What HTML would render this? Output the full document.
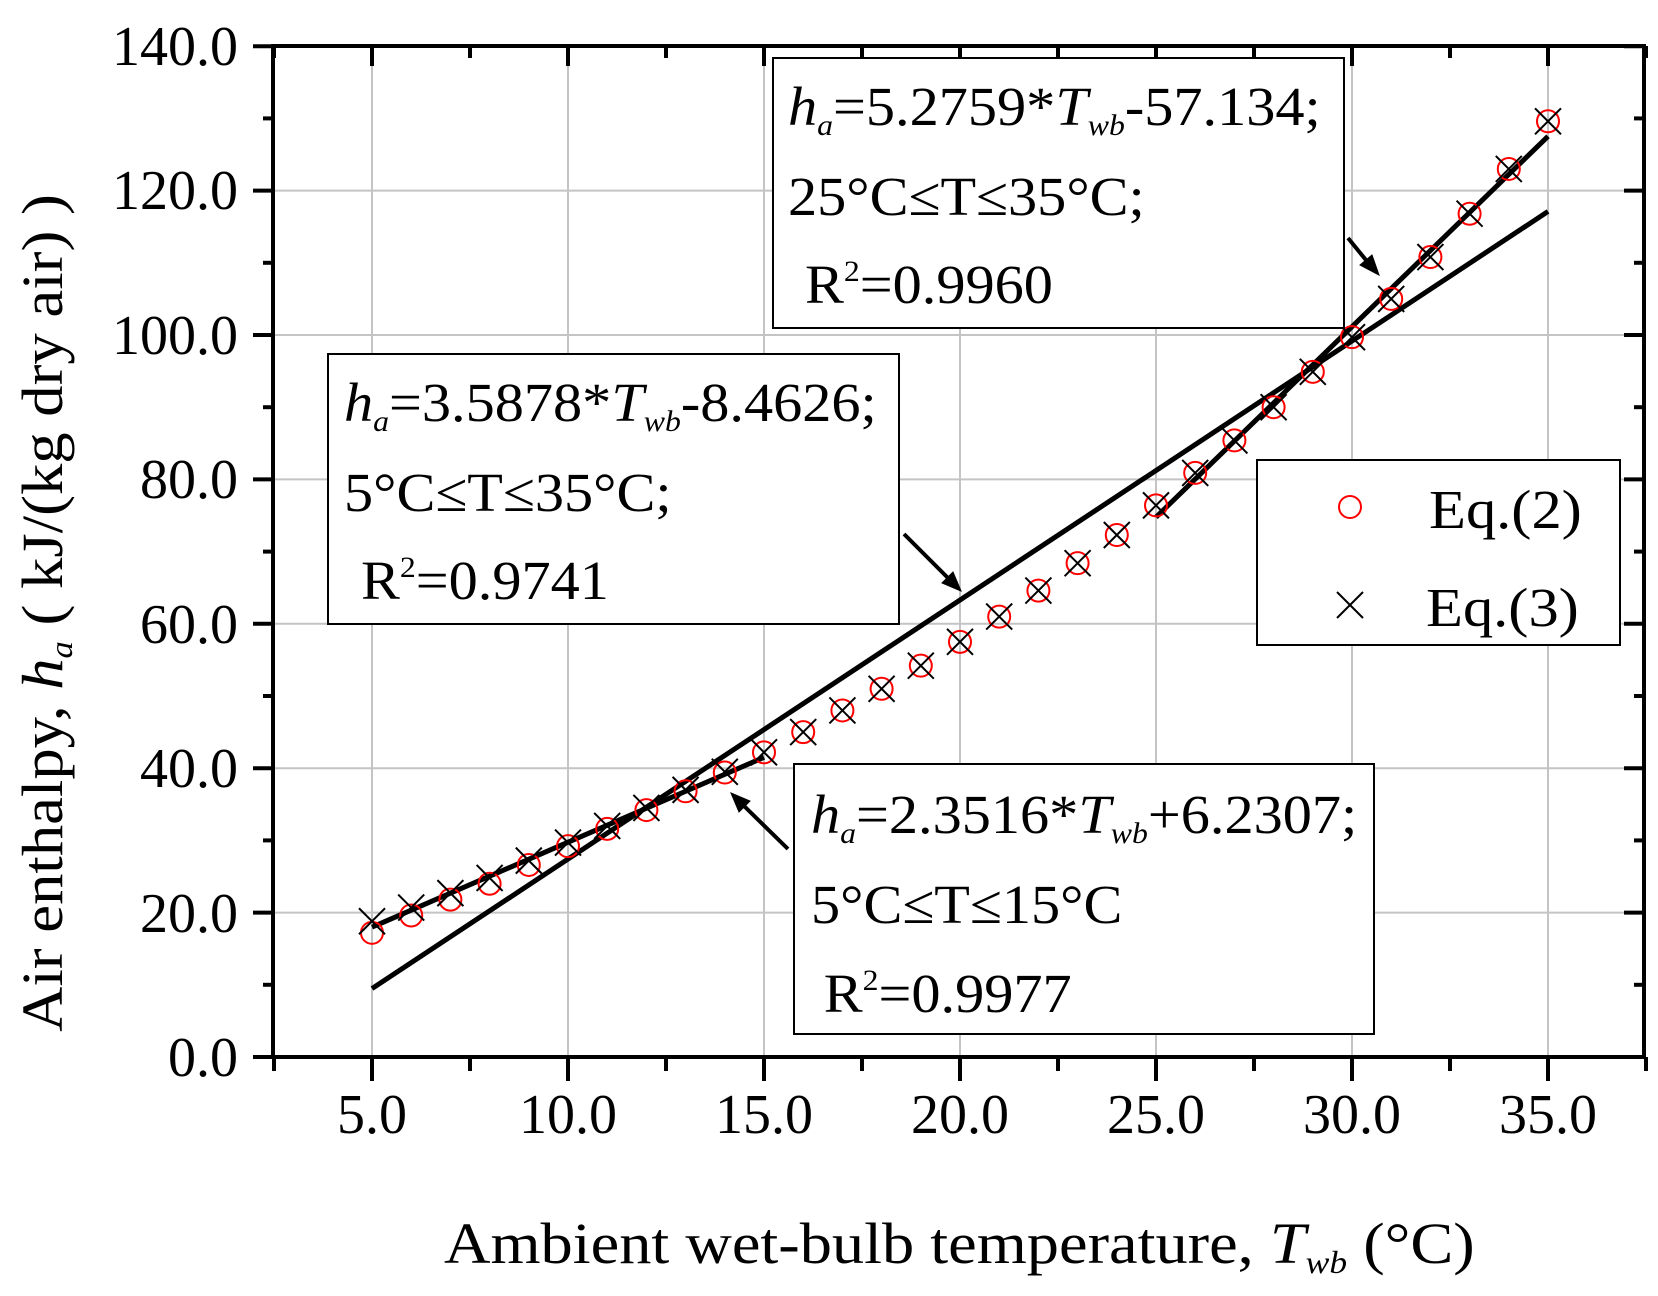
<!DOCTYPE html>
<html><head><meta charset="utf-8"><style>
html,body{margin:0;padding:0;background:#fff;}
svg{display:block;}
text{font-family:"Liberation Serif",serif;fill:#000;}
</style></head><body>
<svg id="s" width="1658" height="1296" viewBox="0 0 1658 1296" xmlns="http://www.w3.org/2000/svg">
<g id="grid" stroke="#c4c4c4" stroke-width="2"></g>
<g id="ticks" stroke="#000" stroke-width="4"></g>
<rect x="273" y="46" width="1371" height="1011" fill="none" stroke="#000" stroke-width="4"/>
<g font-size="56">
<text x="238" y="65" text-anchor="end">140.0</text>
<text x="238" y="209" text-anchor="end">120.0</text>
<text x="238" y="354" text-anchor="end">100.0</text>
<text x="238" y="498" text-anchor="end">80.0</text>
<text x="238" y="643" text-anchor="end">60.0</text>
<text x="238" y="787" text-anchor="end">40.0</text>
<text x="238" y="932" text-anchor="end">20.0</text>
<text x="238" y="1076" text-anchor="end">0.0</text>
<text x="372" y="1133" text-anchor="middle">5.0</text>
<text x="568" y="1133" text-anchor="middle">10.0</text>
<text x="764" y="1133" text-anchor="middle">15.0</text>
<text x="960" y="1133" text-anchor="middle">20.0</text>
<text x="1156" y="1133" text-anchor="middle">25.0</text>
<text x="1352" y="1133" text-anchor="middle">30.0</text>
<text x="1548" y="1133" text-anchor="middle">35.0</text>
</g>
<text transform="translate(444,1263) scale(1.11,1)" x="0" y="0" font-size="58">Ambient wet-bulb temperature, <tspan font-style="italic">T</tspan><tspan font-style="italic" font-size="32" dy="10">wb</tspan><tspan dy="-10"> (°C)</tspan></text>
<text transform="translate(62,613) rotate(-90) scale(1.08,1)" text-anchor="middle" font-size="58">Air enthalpy, <tspan font-style="italic">h</tspan><tspan font-style="italic" font-size="32" dy="10">a</tspan><tspan dy="-10"> ( kJ/(kg dry air) )</tspan></text>
<g id="lines" stroke="#000" stroke-width="5" fill="none"></g>
<g id="marks"></g>
<!-- boxes -->
<rect x="773" y="58" width="571" height="270" fill="#fff" stroke="#000" stroke-width="2"/>
<rect x="328" y="354" width="571" height="270" fill="#fff" stroke="#000" stroke-width="2"/>
<rect x="794" y="764" width="580" height="270" fill="#fff" stroke="#000" stroke-width="2"/>
<rect x="1257" y="460" width="363" height="185" fill="#fff" stroke="#000" stroke-width="2"/>
<g font-size="55">
<g transform="translate(788,0) scale(1.06,1)">
<text x="0" y="125"><tspan font-style="italic">h</tspan><tspan font-style="italic" font-size="30" dy="10">a</tspan><tspan dy="-10">=5.2759*</tspan><tspan font-style="italic">T</tspan><tspan font-style="italic" font-size="30" dy="10">wb</tspan><tspan dy="-10">-57.134;</tspan></text>
<text x="0" y="215">25°C≤T≤35°C;</text>
<text x="16" y="303">R<tspan font-size="30" dy="-22">2</tspan><tspan dy="22">=0.9960</tspan></text>
</g>
<g transform="translate(344,0) scale(1.06,1)">
<text x="0" y="421"><tspan font-style="italic">h</tspan><tspan font-style="italic" font-size="30" dy="10">a</tspan><tspan dy="-10">=3.5878*</tspan><tspan font-style="italic">T</tspan><tspan font-style="italic" font-size="30" dy="10">wb</tspan><tspan dy="-10">-8.4626;</tspan></text>
<text x="0" y="511">5°C≤T≤35°C;</text>
<text x="16" y="599">R<tspan font-size="30" dy="-22">2</tspan><tspan dy="22">=0.9741</tspan></text>
</g>
<g transform="translate(811,0) scale(1.06,1)">
<text x="0" y="833"><tspan font-style="italic">h</tspan><tspan font-style="italic" font-size="30" dy="10">a</tspan><tspan dy="-10">=2.3516*</tspan><tspan font-style="italic">T</tspan><tspan font-style="italic" font-size="30" dy="10">wb</tspan><tspan dy="-10">+6.2307;</tspan></text>
<text x="0" y="923">5°C≤T≤15°C</text>
<text x="12" y="1012">R<tspan font-size="30" dy="-22">2</tspan><tspan dy="22">=0.9977</tspan></text>
</g>
<text transform="translate(1429,528) scale(1.1,1)">Eq.(2)</text>
<text transform="translate(1426,626) scale(1.1,1)">Eq.(3)</text>
</g>
<circle cx="1350" cy="507" r="11" fill="none" stroke="#f00" stroke-width="2"/>
<path d="M1337 592L1363 618M1363 592L1337 618" stroke="#000" stroke-width="2"/>
<!-- arrows -->
<g stroke="#000" stroke-width="4" fill="#000">
<line x1="1348" y1="238" x2="1370" y2="265"/>
<polygon points="1379,275 1360,265 1372,255" stroke-width="1"/>
<line x1="904" y1="534" x2="951" y2="581"/>
<polygon points="961,591 942,583 953,572" stroke-width="1"/>
<line x1="788" y1="849" x2="741" y2="803"/>
<polygon points="731,793 750,801 739,812" stroke-width="1"/>
</g>
</svg>
<script>
var NS="http://www.w3.org/2000/svg";
function px(t){return 372+(t-5)*39.2;}
function py(v){return 1057-v*7.22;}
function el(p,n,a){var e=document.createElementNS(NS,n);for(var k in a)e.setAttribute(k,a[k]);document.getElementById(p).appendChild(e);}
for(var t=5;t<=35;t+=5)el("grid","line",{x1:px(t),y1:46,x2:px(t),y2:1057});
for(var v=20;v<=120;v+=20)el("grid","line",{x1:273,y1:py(v),x2:1644,y2:py(v)});
for(var t=2.5;t<=37.5;t+=2.5){var maj=(t%5===0);var x=px(t);
 el("ticks","line",{x1:x,y1:1057,x2:x,y2:1057+(maj?24:14)});
 el("ticks","line",{x1:x,y1:46,x2:x,y2:46+(maj?20:12)});}
for(var v=0;v<=140;v+=10){var maj=(v%20===0);var y=py(v);
 el("ticks","line",{x1:273,y1:y,x2:273-(maj?20:10),y2:y});
 el("ticks","line",{x1:1644,y1:y,x2:1644-(maj?20:10),y2:y});}
function L(a,b,t0,t1){el("lines","line",{x1:px(t0),y1:py(a*t0+b),x2:px(t1),y2:py(a*t1+b)});}
L(3.5878,-8.4626,5,35);L(2.3516,6.2307,5,15);L(5.2759,-57.134,25,35);
var e2=[17.2,19.6,21.8,24,26.6,29.2,31.6,34.2,36.8,39.4,42.2,45,48,51,54.2,57.5,61,64.6,68.4,72.3,76.4,80.9,85.4,90,94.9,99.7,105,110.8,116.8,123,129.6];
var off=[1.6,1.1,0.9,0.8,0.6,0.5,0.4,0.3,0.2,0.1,0];
for(var i=0;i<31;i++){var T=5+i,x=px(T),y=py(e2[i]);
 el("marks","circle",{cx:x,cy:y,r:11,fill:"none",stroke:"#f00","stroke-width":2});
 var y3=py(e2[i]+(off[i]||0));
 el("marks","path",{d:"M"+(x-13)+" "+(y3-13)+"L"+(x+13)+" "+(y3+13)+"M"+(x+13)+" "+(y3-13)+"L"+(x-13)+" "+(y3+13),stroke:"#000","stroke-width":2});}
</script>
</body></html>
